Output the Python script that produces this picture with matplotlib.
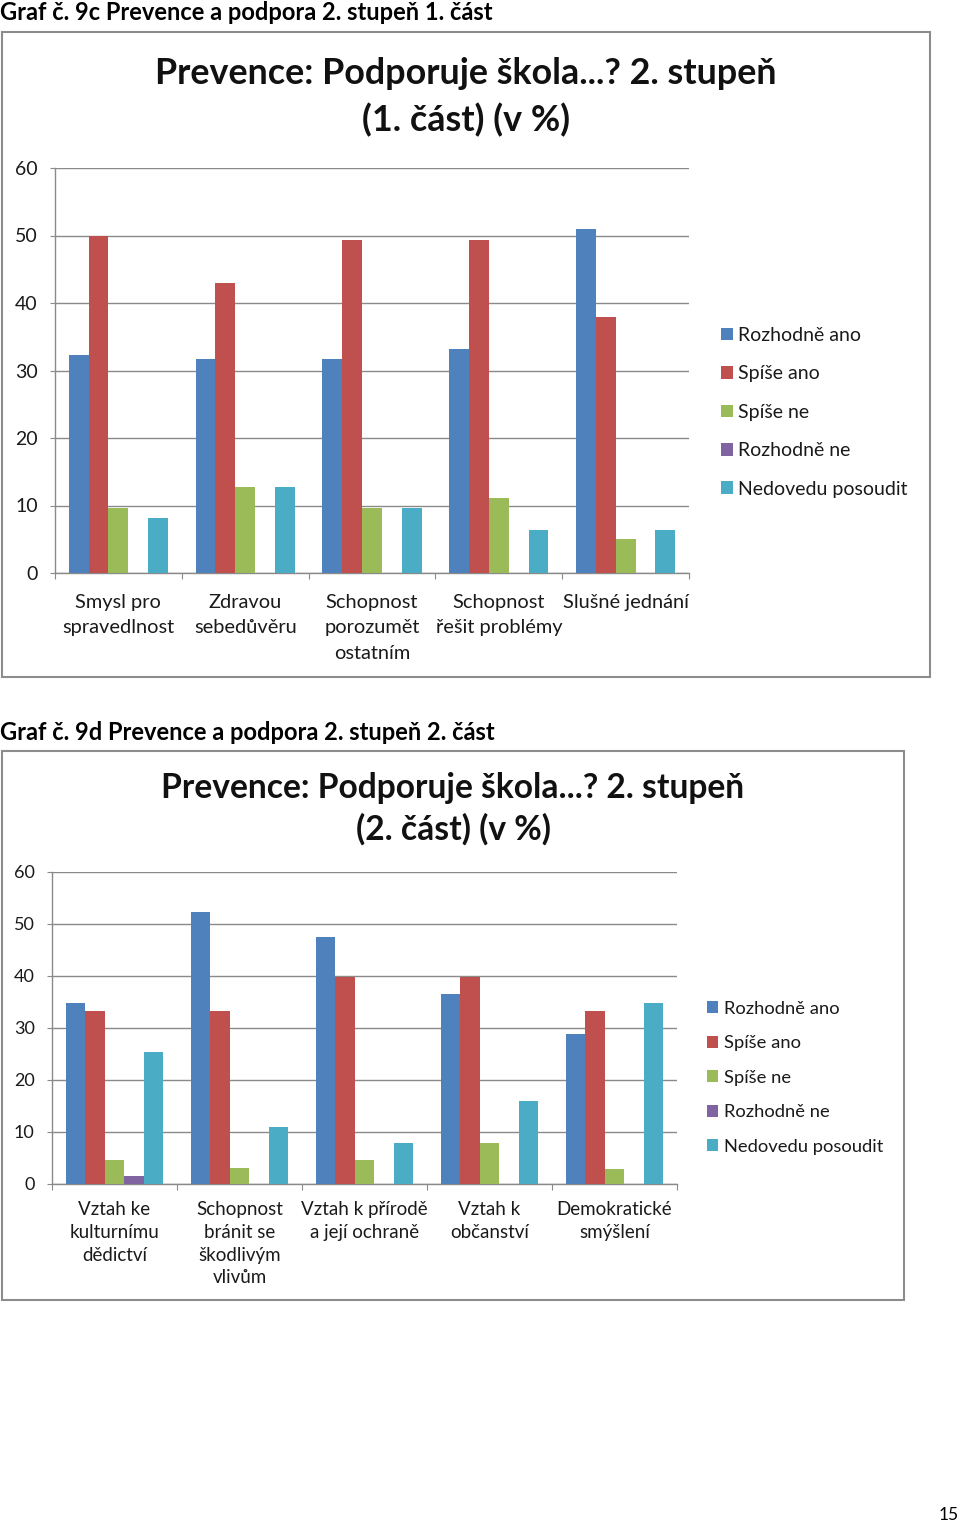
import matplotlib
matplotlib.use("Agg")
import matplotlib.pyplot as plt
import numpy as np
from matplotlib.patches import Rectangle

plt.rcParams['font.family'] = ['Lato', 'DejaVu Sans']

W, H = 960, 1525

series = ["Rozhodně ano", "Spíše ano", "Spíše ne", "Rozhodně ne", "Nedovedu posoudit"]
colors = ["#4F81BD", "#C0504D", "#9BBB59", "#8064A2", "#4BACC6"]

cats1 = ["Smysl pro\nspravedlnost", "Zdravou\nsebedůvěru", "Schopnost\nporozumět\nostatním",
         "Schopnost\nřešit problémy", "Slušné jednání"]
rozhodne_ano_1 = [32.3, 31.7, 31.7, 33.2, 50.9]
spise_ano_1 = [50.0, 42.9, 49.3, 49.3, 38.0]
spise_ne_1 = [9.7, 12.7, 9.6, 11.1, 5.0]
rozhodne_ne_1 = [0, 0, 0, 0, 0]
nedovedu_1 = [8.1, 12.7, 9.6, 6.3, 6.3]

cats2 = ["Vztah ke\nkulturnímu\ndědictví", "Schopnost\nbránit se\nškodlivým\nvlivům",
         "Vztah k přírodě\na její ochraně", "Vztah k\nobčanství", "Demokratické\nsmýšlení"]
rozhodne_ano_2 = [34.9, 52.4, 47.5, 36.5, 28.8]
spise_ano_2 = [33.2, 33.2, 39.8, 39.8, 33.2]
spise_ne_2 = [4.7, 3.1, 4.7, 7.8, 2.9]
rozhodne_ne_2 = [1.6, 0, 0, 0, 0]
nedovedu_2 = [25.3, 11.0, 7.8, 15.9, 34.8]

yticks = [0, 10, 20, 30, 40, 50, 60]

fig = plt.figure(figsize=(W / 100, H / 100), dpi=100)
fig.patch.set_facecolor("white")


def fx(x):
    return x / W


def fy(y):
    return 1 - y / H


def box(x0, y0, x1, y1):
    fig.patches.append(Rectangle((fx(x0), fy(y1)), fx(x1) - fx(x0), fy(y0) - fy(y1),
                                 transform=fig.transFigure, fill=False,
                                 edgecolor="#8c8c8c", linewidth=1.5))


def chart(plot_rect, cats, data, fs_tick, fs_x, xpad, linesp, leg_anchor, leg_fs, leg_spacing):
    x0, y0, x1, y1 = plot_rect
    ax = fig.add_axes([fx(x0), fy(y1), fx(x1) - fx(x0), fy(y0) - fy(y1)])
    n = len(cats)
    idx = np.arange(n)
    bw = 1 / 6.4
    for i, (vals, col, lab) in enumerate(zip(data, colors, series)):
        ax.bar(idx + (i - 2) * bw, vals, width=bw, color=col, label=lab, linewidth=0, zorder=3)
    ax.set_xlim(-0.5, n - 0.5)
    ax.set_ylim(0, 60)
    ax.set_yticks(yticks)
    ax.set_yticklabels([str(t) for t in yticks], fontsize=fs_tick, color="#1a1a1a")
    ax.yaxis.grid(True, color="#8a8a8a", linewidth=1.0, zorder=0)
    ax.set_axisbelow(True)
    ax.set_xticks(np.arange(-0.5, n, 1.0))
    ax.set_xticklabels([])
    ax.set_xticks(idx, minor=True)
    ax.set_xticklabels(cats, minor=True, fontsize=fs_x, color="#1a1a1a", linespacing=linesp)
    ax.tick_params(axis="x", which="minor", length=0, pad=xpad)
    ax.tick_params(axis="x", which="major", length=4, color="#8a8a8a", direction="out")
    ax.tick_params(axis="y", length=3.5, color="#8a8a8a", pad=9)
    for s in ["top", "right"]:
        ax.spines[s].set_visible(False)
    for s in ["left", "bottom"]:
        ax.spines[s].set_color("#8a8a8a")
        ax.spines[s].set_linewidth(1.0)
    leg = ax.legend(loc="upper left", bbox_to_anchor=(fx(leg_anchor[0]), fy(leg_anchor[1])),
                    bbox_transform=fig.transFigure, frameon=False, fontsize=leg_fs,
                    handlelength=0.62, handleheight=0.62, handletextpad=0.28,
                    labelspacing=leg_spacing, borderpad=0, borderaxespad=0)
    for t in leg.get_texts():
        t.set_color("#1a1a1a")
    return ax


# Chart 1
fig.text(fx(0), fy(12), "Graf č. 9c Prevence a podpora 2. stupeň 1. část", fontsize=17,
         fontweight="bold", ha="left", va="center")
box(2, 32, 930, 677)
fig.text(fx(466), fy(74), "Prevence: Podporuje škola...? 2. stupeň", fontsize=25.8,
         fontweight="bold", ha="center", va="center", color="#111111")
fig.text(fx(466), fy(120), "(1. část) (v %)", fontsize=25.8,
         fontweight="bold", ha="center", va="center", color="#111111")
chart((55, 168, 689, 573), cats1,
      [rozhodne_ano_1, spise_ano_1, spise_ne_1, rozhodne_ne_1, nedovedu_1],
      14, 14.4, 15, 1.6, (721, 327), 14, 1.1)

# Chart 2
fig.text(fx(0), fy(732), "Graf č. 9d Prevence a podpora 2. stupeň 2. část", fontsize=17,
         fontweight="bold", ha="left", va="center")
box(2, 751, 904, 1300)
fig.text(fx(453), fy(788), "Prevence: Podporuje škola...? 2. stupeň", fontsize=24.2,
         fontweight="bold", ha="center", va="center", color="#111111")
fig.text(fx(453), fy(829), "(2. část) (v %)", fontsize=24.2,
         fontweight="bold", ha="center", va="center", color="#111111")
chart((52, 872, 677, 1184), cats2,
      [rozhodne_ano_2, spise_ano_2, spise_ne_2, rozhodne_ne_2, nedovedu_2],
      13, 13.5, 12.3, 1.41, (707, 1000.5), 13.2, 1.01)

fig.text(fx(959), fy(1515), "15", fontsize=12.5, ha="right", va="center")

fig.savefig("out.png", dpi=100, facecolor="white")
